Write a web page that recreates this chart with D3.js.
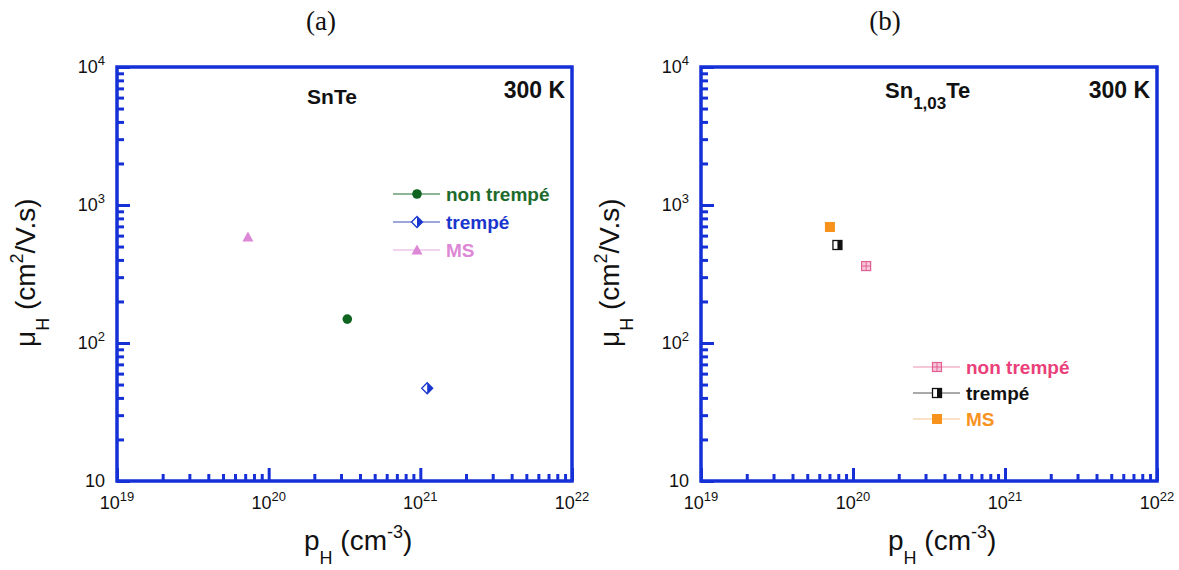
<!DOCTYPE html>
<html><head><meta charset="utf-8">
<script src="https://cdn.jsdelivr.net/npm/d3@7"></script>
<style>body{margin:0;background:#fff}svg{display:block}</style>
</head><body>
<svg id="c" width="1179" height="570"></svg>
<script>
// ---- data ----
const xTickExps = [19, 20, 21, 22];
const yTickExps = [1, 2, 3, 4];
// panel (a) SnTe
const aSeries = ["non trempé", "trempé", "MS"];
const aP = [3.3e20, 1.11e21, 7.3e19];
const aMu = [149, 47, 586];
// panel (b) Sn1,03Te
const bSeries = ["non trempé", "trempé", "MS"];
const bP = [1.22e20, 7.9e19, 7.05e19];
const bMu = [361, 513, 693];

const svg = d3.select("#c");
const AX = "#1530d6";
const font = "'Liberation Sans', Arial, sans-serif";

function panel(opts) {
  const {left, top, w, h, title, titleX, label, names, P, Mu, colors, lineColors, markers, legX, legY, legDy} = opts;
  const g = svg.append("g").attr("transform", `translate(${left},${top})`);
  const x = d3.scaleLog().domain([1e19, 1e22]).range([0, w]);
  const y = d3.scaleLog().domain([10, 1e4]).range([h, 0]);

  const xMaj = xTickExps.map(e => Math.pow(10, e));
  const yMaj = yTickExps.map(e => Math.pow(10, e));
  const xMin = x.ticks().filter(v => !xMaj.some(m => Math.abs(m - v) / m < 1e-6));
  const yMin = y.ticks().filter(v => !yMaj.some(m => Math.abs(m - v) / m < 1e-6));

  const mk = (axis, vals, size) => axis.tickValues(vals).tickSize(size).tickFormat("");
  const gx1 = g.append("g").attr("transform", `translate(0,${h})`).call(mk(d3.axisBottom(x), xMin, -7));
  const gx2 = g.append("g").attr("transform", `translate(0,${h})`).call(mk(d3.axisBottom(x), xMaj, -13));
  const gy1 = g.append("g").call(mk(d3.axisLeft(y), yMin, -7));
  const gy2 = g.append("g").call(mk(d3.axisLeft(y), yMaj, -13));
  [gx1, gx2, gy1, gy2].forEach(s => {
    s.select(".domain").remove();
    s.selectAll("line").attr("stroke", AX).attr("stroke-width", 3);
  });
  g.append("rect").attr("x", 0).attr("y", 0).attr("width", w).attr("height", h)
    .attr("fill", "none").attr("stroke", AX).attr("stroke-width", 3.5);

  // tick labels
  xTickExps.forEach(e => {
    const t = g.append("text").attr("x", x(Math.pow(10, e))).attr("y", h + 28)
      .attr("text-anchor", "middle").attr("font-family", font).attr("font-size", 18).attr("fill", "#111");
    t.append("tspan").text("10");
    t.append("tspan").attr("dy", -8).attr("font-size", 13).text(e);
  });
  yTickExps.forEach(e => {
    const t = g.append("text").attr("x", -12).attr("y", y(Math.pow(10, e)) + 6)
      .attr("text-anchor", "end").attr("font-family", font).attr("font-size", 18).attr("fill", "#111");
    if (e === 1) { t.text("10"); return; }
    t.append("tspan").text("10");
    t.append("tspan").attr("dy", -8).attr("font-size", 13).text(e);
  });

  // axis titles
  const xt = g.append("text").attr("x", 187).attr("y", h + 69).attr("text-anchor", "start")
    .attr("font-family", font).attr("font-size", 28).attr("fill", "#111");
  xt.append("tspan").text("p");
  xt.append("tspan").attr("dy", 14).attr("font-size", 18).text("H");
  xt.append("tspan").attr("dy", -14).text(" (cm");
  xt.append("tspan").attr("dy", -12).attr("font-size", 18).text("-3");
  xt.append("tspan").attr("dy", 12).text(")");

  const yt = g.append("text").attr("transform", `translate(-82,280) rotate(-90)`)
    .attr("text-anchor", "start").attr("font-family", font).attr("font-size", 28).attr("fill", "#111");
  yt.append("tspan").text("μ");
  yt.append("tspan").attr("dy", 14).attr("font-size", 18).text("H");
  yt.append("tspan").attr("dy", -14).text(" (cm");
  yt.append("tspan").attr("dy", -12).attr("font-size", 18).text("2");
  yt.append("tspan").attr("dy", 12).text("/V.s)");

  // panel title
  svg.append("text").attr("x", titleX).attr("y", 30).attr("text-anchor", "middle")
    .attr("font-family", "'Liberation Serif', 'Times New Roman', serif").attr("font-size", 27).attr("fill", "#111").text(title);

  // labels inside
  label(g, w);
  g.append("text").attr("x", w - 7).attr("y", 31).attr("text-anchor", "end")
    .attr("font-family", font).attr("font-weight", "bold").attr("font-size", 23).attr("fill", "#111").text("300 K");

  // points
  names.forEach((n, i) => {
    markers[i](g.append("g").attr("transform", `translate(${x(P[i])},${y(Mu[i])})`));
  });

  // legend
  names.forEach((n, i) => {
    const ly = legY + i * legDy;
    g.append("line").attr("x1", legX).attr("x2", legX + 47).attr("y1", ly).attr("y2", ly)
      .attr("stroke", lineColors[i]).attr("stroke-width", 1);
    markers[i](g.append("g").attr("transform", `translate(${legX + 24},${ly})`));
    g.append("text").attr("x", legX + 53).attr("y", ly + 7).attr("font-family", font)
      .attr("font-weight", "bold").attr("font-size", 19).attr("fill", colors[i]).text(n);
  });
}

// marker factories
const circleM = c => s => s.append("circle").attr("r", 4.8).attr("fill", c);
const triM = c => s => s.append("path").attr("d", "M0,-5.5L5.5,4.5L-5.5,4.5Z").attr("fill", c);
const diamondHalf = c => s => {
  s.append("path").attr("d", "M0,-5.5L5.5,0L0,5.5L-5.5,0Z").attr("fill", "#fff").attr("stroke", c).attr("stroke-width", 1.3);
  s.append("path").attr("d", "M0,-5.5L5.5,0L0,5.5Z").attr("fill", c);
};
const squareM = c => s => s.append("rect").attr("x", -5).attr("y", -5).attr("width", 10).attr("height", 10).attr("fill", c);
const squareHalf = c => s => {
  s.append("rect").attr("x", -4.5).attr("y", -4.5).attr("width", 9).attr("height", 9).attr("fill", "#fff").attr("stroke", c).attr("stroke-width", 1.3);
  s.append("rect").attr("x", 0).attr("y", -4.5).attr("width", 4.5).attr("height", 9).attr("fill", c);
};
const squareGrid = c => s => {
  s.append("rect").attr("x", -4.5).attr("y", -4.5).attr("width", 9).attr("height", 9).attr("fill", "#f6c6da").attr("stroke", c).attr("stroke-width", 1.2);
  s.append("line").attr("x1", 0).attr("x2", 0).attr("y1", -4.5).attr("y2", 4.5).attr("stroke", c).attr("stroke-width", 1);
  s.append("line").attr("y1", 0).attr("y2", 0).attr("x1", -4.5).attr("x2", 4.5).attr("stroke", c).attr("stroke-width", 1);
};

panel({
  left: 117, top: 67, w: 455, h: 414, title: "(a)", titleX: 321,
  label: (g, w) => g.append("text").attr("x", 215).attr("y", 37).attr("text-anchor", "middle")
    .attr("font-family", font).attr("font-weight", "bold").attr("font-size", 21).attr("fill", "#111").text("SnTe"),
  names: aSeries, P: aP, Mu: aMu,
  colors: ["#1c6b2c", "#1a36cc", "#dd88d6"],
  lineColors: ["#1c6b2c", "#3d4fb8", "#e3a8e0"],
  markers: [circleM("#0f6420"), diamondHalf("#1a36d0"), triM("#dd88d6")],
  legX: 276, legY: 127, legDy: 28
});

panel({
  left: 701, top: 67, w: 456, h: 414, title: "(b)", titleX: 885,
  label: (g, w) => {
    const t = g.append("text").attr("x", 184).attr("y", 31)
      .attr("font-family", font).attr("font-weight", "bold").attr("font-size", 22).attr("fill", "#111");
    t.append("tspan").text("Sn");
    t.append("tspan").attr("dy", 11).attr("font-size", 17).text("1,03");
    t.append("tspan").attr("dy", -11).text("Te");
  },
  names: bSeries, P: bP, Mu: bMu,
  colors: ["#ea407a", "#111111", "#f7931e"],
  lineColors: ["#ec8fb0", "#555555", "#f3c691"],
  markers: [squareGrid("#e35f92"), squareHalf("#111"), squareM("#f7921c")],
  legX: 212, legY: 300, legDy: 26
});
</script>
</body></html>
